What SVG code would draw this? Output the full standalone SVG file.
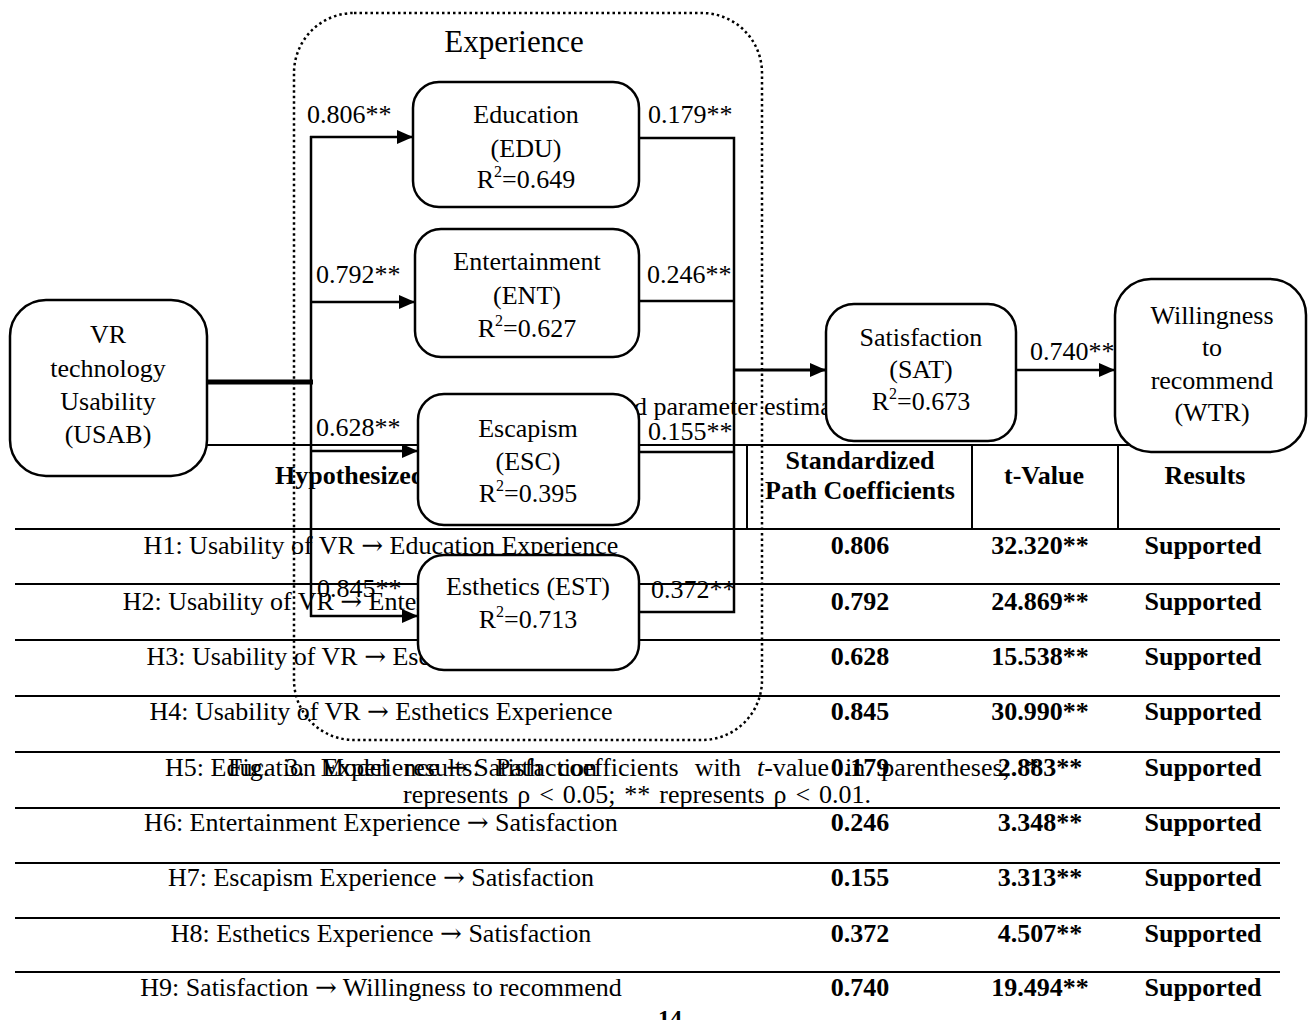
<svg xmlns="http://www.w3.org/2000/svg" width="1308" height="1020" viewBox="0 0 1308 1020">
<style>
.t{font-family:"Liberation Serif","Times New Roman",serif;font-size:26px;fill:#000}
.b{font-weight:bold}
.c{text-anchor:middle}
.n{fill:#fff;stroke:#000;stroke-width:2.5}
.ln{stroke:#000;stroke-width:2.5;fill:none}
.tl{stroke:#000;stroke-width:2;fill:none}
.sup{font-size:16px}
.ar{font-family:"DejaVu Serif",serif}
</style>
<defs>
<marker id="ah" markerUnits="userSpaceOnUse" markerWidth="16" markerHeight="14" refX="16" refY="7" orient="auto">
<path d="M0,0 L16,7 L0,14 z" fill="#000"/>
</marker>
</defs>
<rect width="1308" height="1020" fill="#fff"/>
<g id="table">
<g class="tl">
<line x1="15" y1="445" x2="1280" y2="445"/>
<line x1="15" y1="529" x2="1280" y2="529"/>
<line x1="15" y1="584" x2="1280" y2="584"/>
<line x1="15" y1="640" x2="1280" y2="640"/>
<line x1="15" y1="696" x2="1280" y2="696"/>
<line x1="15" y1="752" x2="1280" y2="752"/>
<line x1="15" y1="808" x2="1280" y2="808"/>
<line x1="15" y1="863" x2="1280" y2="863"/>
<line x1="15" y1="918" x2="1280" y2="918"/>
<line x1="15" y1="972" x2="1280" y2="972"/>
<line x1="747" y1="445" x2="747" y2="529"/>
<line x1="972" y1="445" x2="972" y2="529"/>
<line x1="1118" y1="445" x2="1118" y2="529"/>
</g>
<text class="t" x="634" y="415">d parameter estimates</text>
<text class="t b" x="275" y="484">Hypothesized</text>
<text class="t b c" x="860" y="469">Standardized</text>
<text class="t b c" x="860" y="499">Path Coefficients</text>
<text class="t b c" x="1044" y="484">t-Value</text>
<text class="t b c" x="1205" y="484">Results</text>
<g class="t c">
<text x="381" y="554">H1: Usability of VR <tspan class="ar">→</tspan> Education Experience</text>
<text x="381" y="610">H2: Usability of VR <tspan class="ar">→</tspan> Entertainment Experience</text>
<text x="381" y="665">H3: Usability of VR <tspan class="ar">→</tspan> Escapism Experience</text>
<text x="381" y="720">H4: Usability of VR <tspan class="ar">→</tspan> Esthetics Experience</text>
<text x="381" y="776">H5: Education Experience <tspan class="ar">→</tspan> Satisfaction</text>
<text x="381" y="831">H6: Entertainment Experience <tspan class="ar">→</tspan> Satisfaction</text>
<text x="381" y="886">H7: Escapism Experience <tspan class="ar">→</tspan> Satisfaction</text>
<text x="381" y="942">H8: Esthetics Experience <tspan class="ar">→</tspan> Satisfaction</text>
<text x="381" y="996">H9: Satisfaction <tspan class="ar">→</tspan> Willingness to recommend</text>
</g>
<g class="t b c">
<text x="860" y="554">0.806</text><text x="1040" y="554">32.320**</text><text x="1203" y="554">Supported</text>
<text x="860" y="610">0.792</text><text x="1040" y="610">24.869**</text><text x="1203" y="610">Supported</text>
<text x="860" y="665">0.628</text><text x="1040" y="665">15.538**</text><text x="1203" y="665">Supported</text>
<text x="860" y="720">0.845</text><text x="1040" y="720">30.990**</text><text x="1203" y="720">Supported</text>
<text x="860" y="776">0.179</text><text x="1040" y="776">2.883**</text><text x="1203" y="776">Supported</text>
<text x="860" y="831">0.246</text><text x="1040" y="831">3.348**</text><text x="1203" y="831">Supported</text>
<text x="860" y="886">0.155</text><text x="1040" y="886">3.313**</text><text x="1203" y="886">Supported</text>
<text x="860" y="942">0.372</text><text x="1040" y="942">4.507**</text><text x="1203" y="942">Supported</text>
<text x="860" y="996">0.740</text><text x="1040" y="996">19.494**</text><text x="1203" y="996">Supported</text>
</g>
<text class="t" x="228" y="776" word-spacing="9.5">Fig. 3. Model results: Path coefficients with <tspan font-style="italic">t</tspan>-value in parentheses; *</text>
<text class="t" x="403" y="803" word-spacing="2.4">represents ρ &lt; 0.05; ** represents ρ &lt; 0.01.</text>
<text class="t b c" x="670" y="1026" style="font-size:24px">14</text>
</g>
<g id="experience">
<rect x="294" y="13" width="468" height="727" rx="60" fill="none" stroke="#000" stroke-width="2.5" stroke-dasharray="2.5 3"/>
<text class="t c" x="514" y="52" style="font-size:31px">Experience</text>
</g>
<g id="connectors" class="ln">
<line x1="207" y1="382" x2="313" y2="382" stroke-width="5"/>
<line x1="311" y1="136" x2="311" y2="617"/>
<line x1="310" y1="137" x2="413" y2="137" marker-end="url(#ah)"/>
<line x1="310" y1="302" x2="415" y2="302" marker-end="url(#ah)"/>
<line x1="310" y1="451" x2="418" y2="451" marker-end="url(#ah)"/>
<line x1="310" y1="616" x2="418" y2="616" marker-end="url(#ah)"/>
<polyline points="639,138 734,138 734,612 639,612"/>
<line x1="639" y1="301" x2="734" y2="301"/>
<line x1="639" y1="452" x2="734" y2="452"/>
<line x1="733" y1="370" x2="826" y2="370" stroke-width="3" marker-end="url(#ah)"/>
<line x1="1016" y1="370" x2="1115" y2="370" marker-end="url(#ah)"/>
</g>
<g id="labels" class="t">
<text x="307" y="123">0.806**</text>
<text x="648" y="123">0.179**</text>
<text x="316" y="283">0.792**</text>
<text x="647" y="283">0.246**</text>
<text x="316" y="436">0.628**</text>
<text x="648" y="440">0.155**</text>
<text x="317" y="597">0.845**</text>
<text x="651" y="598">0.372**</text>
<text x="1030" y="360">0.740**</text>
</g>
<g id="USAB">
<rect class="n" x="10" y="300" width="197" height="176" rx="36"/>
<text class="t c" x="108" y="343">VR</text>
<text class="t c" x="108" y="377">technology</text>
<text class="t c" x="108" y="410">Usability</text>
<text class="t c" x="108" y="443">(USAB)</text>
</g>
<g id="EDU">
<rect class="n" x="413" y="82" width="226" height="125" rx="26"/>
<text class="t c" x="526" y="123">Education</text>
<text class="t c" x="526" y="157">(EDU)</text>
<text class="t c" x="526" y="188">R<tspan class="sup" dy="-11">2</tspan><tspan dy="11">=0.649</tspan></text>
</g>
<g id="ENT">
<rect class="n" x="415" y="229" width="224" height="128" rx="26"/>
<text class="t c" x="527" y="270">Entertainment</text>
<text class="t c" x="527" y="304">(ENT)</text>
<text class="t c" x="527" y="337">R<tspan class="sup" dy="-11">2</tspan><tspan dy="11">=0.627</tspan></text>
</g>
<g id="ESC">
<rect class="n" x="418" y="394" width="221" height="131" rx="26"/>
<text class="t c" x="528" y="437">Escapism</text>
<text class="t c" x="528" y="470">(ESC)</text>
<text class="t c" x="528" y="502">R<tspan class="sup" dy="-11">2</tspan><tspan dy="11">=0.395</tspan></text>
</g>
<g id="EST">
<rect class="n" x="418" y="555" width="221" height="115" rx="26"/>
<text class="t c" x="528" y="595">Esthetics (EST)</text>
<text class="t c" x="528" y="628">R<tspan class="sup" dy="-11">2</tspan><tspan dy="11">=0.713</tspan></text>
</g>
<g id="SAT">
<rect class="n" x="826" y="304" width="190" height="137" rx="28"/>
<text class="t c" x="921" y="346">Satisfaction</text>
<text class="t c" x="921" y="378">(SAT)</text>
<text class="t c" x="921" y="410">R<tspan class="sup" dy="-11">2</tspan><tspan dy="11">=0.673</tspan></text>
</g>
<g id="WTR">
<rect class="n" x="1115" y="279" width="191" height="173" rx="36"/>
<text class="t c" x="1212" y="324">Willingness</text>
<text class="t c" x="1212" y="356">to</text>
<text class="t c" x="1212" y="389">recommend</text>
<text class="t c" x="1212" y="421">(WTR)</text>
</g>
</svg>
